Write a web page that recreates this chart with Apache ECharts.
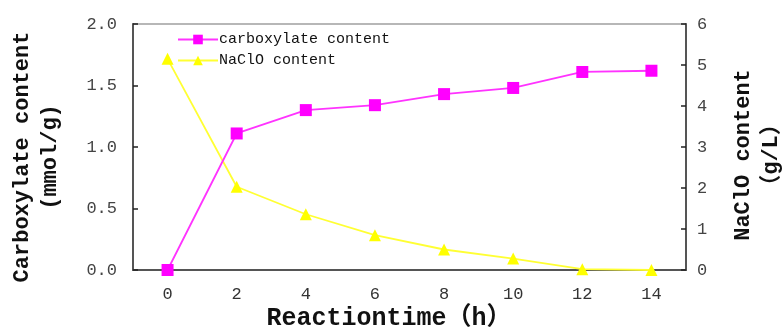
<!DOCTYPE html>
<html>
<head>
<meta charset="utf-8">
<script src="https://cdn.jsdelivr.net/npm/echarts@6/dist/echarts.min.js"></script>
<style>
  html, body { margin: 0; padding: 0; background: #ffffff; }
  #chart { width: 784px; height: 331px; }
</style>
</head>
<body>
<div id="chart"></div>
<script>
// Reaction time (h)
const times = ['0', '2', '4', '6', '8', '10', '12', '14'];
// Carboxylate content (mmol/g), left axis
const carboxylate = [0.00, 1.11, 1.30, 1.34, 1.43, 1.48, 1.61, 1.62];
// NaClO content (g/L), right axis
const naclo = [5.15, 2.03, 1.36, 0.85, 0.50, 0.28, 0.02, 0.00];

const monoFont = '"Liberation Mono", "DejaVu Sans Mono", monospace';
const titleFont = '"Liberation Mono", "Noto Sans CJK SC", monospace';

const chart = echarts.init(document.getElementById('chart'), null, { renderer: 'canvas' });

chart.setOption({
  backgroundColor: '#ffffff',
  animation: false,
  grid: {
    left: 133, right: 98, top: 24, bottom: 61,
    show: true, borderColor: '#a0a0a0', borderWidth: 1.5
  },
  legend: {
    orient: 'vertical',
    left: 172, top: 27,
    itemWidth: 40, itemHeight: 12, itemGap: 6,
    textStyle: { fontFamily: monoFont, fontSize: 15, color: '#111', padding: [0, 0, 0, -4] },
    data: ['carboxylate content', 'NaClO content']
  },
  xAxis: {
    type: 'category',
    data: times,
    boundaryGap: true,
    axisLine: { lineStyle: { color: '#555', width: 2 } },
    axisTick: { inside: true, length: 5, lineStyle: { color: '#222', width: 1.5 } },
    axisLabel: { margin: 16, fontFamily: monoFont, fontSize: 17, color: '#333' },
    splitLine: { show: false }
  },
  yAxis: [
    {
      type: 'value', min: 0, max: 2, interval: 0.5,
      axisLine: { show: true, lineStyle: { color: '#555', width: 2 } },
      axisTick: { show: true, inside: true, length: 5, lineStyle: { color: '#222', width: 1.5 } },
      axisLabel: { margin: 16, fontFamily: monoFont, fontSize: 17, color: '#444',
        formatter: v => v.toFixed(1) },
      splitLine: { show: false }
    },
    {
      type: 'value', min: 0, max: 6, interval: 1,
      position: 'right',
      axisLine: { show: true, lineStyle: { color: '#555', width: 2 } },
      axisTick: { show: true, inside: true, length: 5, lineStyle: { color: '#222', width: 1.5 } },
      axisLabel: { margin: 11, fontFamily: monoFont, fontSize: 17, color: '#444' },
      splitLine: { show: false }
    }
  ],
  series: [
    {
      name: 'carboxylate content',
      type: 'line',
      yAxisIndex: 0,
      data: carboxylate,
      symbol: 'rect', symbolSize: 12,
      lineStyle: { color: '#ff33ff', width: 1.8 },
      itemStyle: { color: '#ff00ff' },
      z: 3
    },
    {
      name: 'NaClO content',
      type: 'line',
      yAxisIndex: 1,
      data: naclo,
      symbol: 'triangle', symbolSize: 12,
      lineStyle: { color: '#ffff33', width: 1.8 },
      itemStyle: { color: '#ffff00' },
      z: 2
    }
  ],
  graphic: [
    {
      type: 'text', x: 36, y: 157, rotation: Math.PI / 2,
      style: {
        text: 'Carboxylate content\n(mmol/g)',
        font: 'bold 22px ' + titleFont,
        fill: '#111', align: 'center', verticalAlign: 'middle', lineHeight: 28
      }
    },
    {
      type: 'text', x: 757, y: 155, rotation: Math.PI / 2,
      style: {
        text: 'NaClO content\n\uff08g/L\uff09',
        font: 'bold 22px ' + titleFont,
        fill: '#111', align: 'center', verticalAlign: 'middle', lineHeight: 28
      }
    },
    {
      type: 'text', x: 389, y: 319,
      style: {
        text: 'Reactiontime\uff08h\uff09',
        font: 'bold 25px ' + titleFont,
        fill: '#111', align: 'center', verticalAlign: 'middle'
      }
    }
  ]
});
</script>
</body>
</html>
